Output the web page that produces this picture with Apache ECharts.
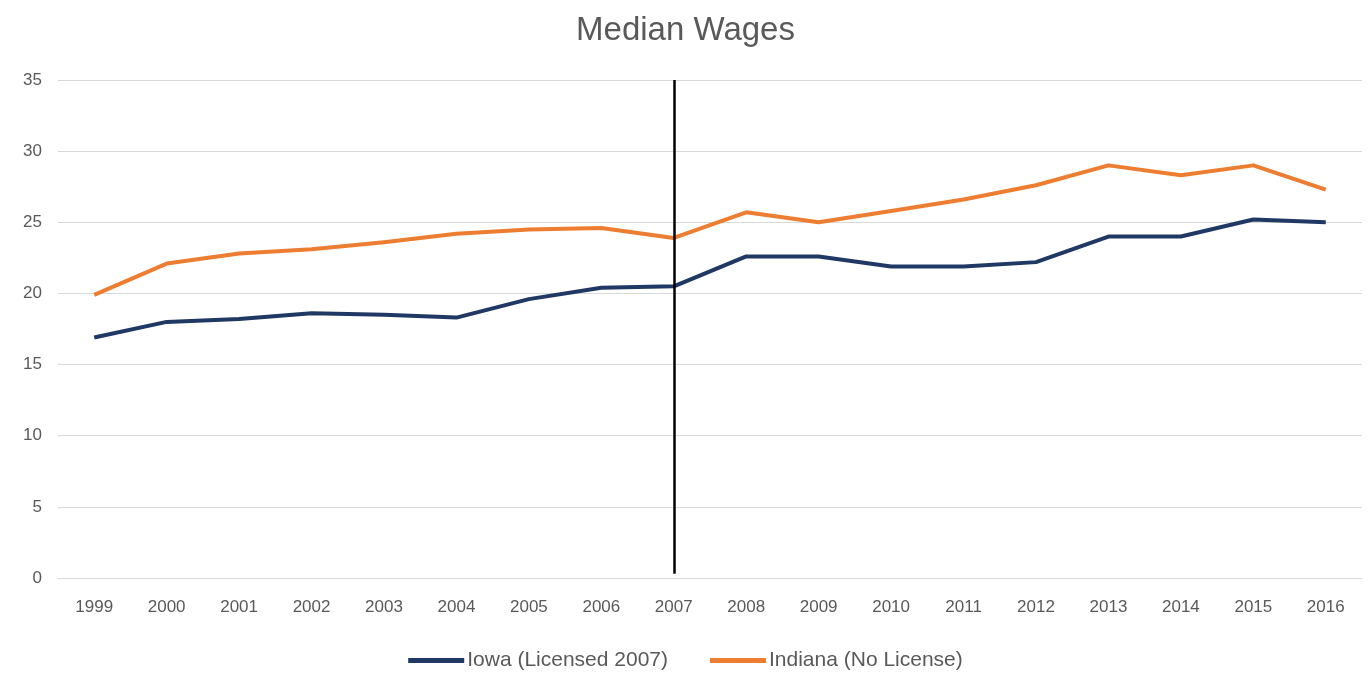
<!DOCTYPE html>
<html>
<head>
<meta charset="utf-8">
<title>Median Wages</title>
<script src="https://cdn.jsdelivr.net/npm/echarts@6/dist/echarts.min.js"></script>
<style>
  html, body { margin: 0; padding: 0; background: #ffffff; }
  #chart { width: 1371px; height: 679px; }
</style>
</head>
<body>
<div id="chart"></div>
<script>
// Years on the category axis
const years = ['1999', '2000', '2001', '2002', '2003', '2004', '2005', '2006', '2007',
  '2008', '2009', '2010', '2011', '2012', '2013', '2014', '2015', '2016'];

// Median hourly wages
const iowaWages = [16.9, 18.0, 18.2, 18.6, 18.5, 18.3, 19.6, 20.4, 20.5,
  22.6, 22.6, 21.9, 21.9, 22.2, 24.0, 24.0, 25.2, 25.0];
const indianaWages = [19.9, 22.1, 22.8, 23.1, 23.6, 24.2, 24.5, 24.6, 23.9,
  25.7, 25.0, 25.8, 26.6, 27.6, 29.0, 28.3, 29.0, 27.3];

// Year the licensing took effect in Iowa
const licenseYear = '2007';

const seriesNames = ['Iowa (Licensed 2007)', 'Indiana (No License)'];

const textColor = '#595959';
const fontFamily = '"Liberation Sans", Arial, sans-serif';

const chart = echarts.init(document.getElementById('chart'));
chart.setOption({
  animation: false,
  title: {
    text: 'Median Wages',
    left: 'center',
    top: 9,
    textStyle: { color: textColor, fontSize: 33, fontWeight: 'normal', fontFamily: fontFamily }
  },
  grid: { left: 58, right: 9, top: 80, bottom: 101, containLabel: false },
  legend: {
    bottom: 3,
    left: 'center',
    itemWidth: 56,
    itemHeight: 5,
    itemGap: 42,
    icon: 'rect',
    textStyle: { color: textColor, fontSize: 21, fontFamily: fontFamily, padding: [0, 0, 0, -2] },
    data: seriesNames
  },
  xAxis: {
    type: 'category',
    data: years,
    boundaryGap: true,
    axisLine: { show: true, lineStyle: { color: '#d9d9d9', width: 1 } },
    axisTick: { show: false },
    axisLabel: { color: textColor, fontSize: 17, fontFamily: fontFamily, margin: 21 }
  },
  yAxis: {
    type: 'value',
    min: 0,
    max: 35,
    interval: 5,
    axisLine: { show: false },
    axisTick: { show: false },
    axisLabel: { color: textColor, fontSize: 17, fontFamily: fontFamily, margin: 16 },
    splitLine: { lineStyle: { color: '#d9d9d9', width: 1 } }
  },
  series: [
    {
      name: seriesNames[0],
      type: 'line',
      data: iowaWages,
      showSymbol: false,
      symbol: 'none',
      color: '#1f3864',
      lineStyle: { width: 4, color: '#1f3864', join: 'round' },
      markLine: {
        silent: true,
        symbol: 'none',
        label: { show: false },
        lineStyle: { color: '#000000', width: 2.5, type: 'solid' },
        data: [[
          { xAxis: licenseYear, yAxis: 35 },
          { xAxis: licenseYear, yAxis: 0.3 }
        ]]
      }
    },
    {
      name: seriesNames[1],
      type: 'line',
      data: indianaWages,
      showSymbol: false,
      symbol: 'none',
      color: '#ed7d31',
      lineStyle: { width: 4, color: '#ed7d31', join: 'round' }
    }
  ]
});
</script>
</body>
</html>
